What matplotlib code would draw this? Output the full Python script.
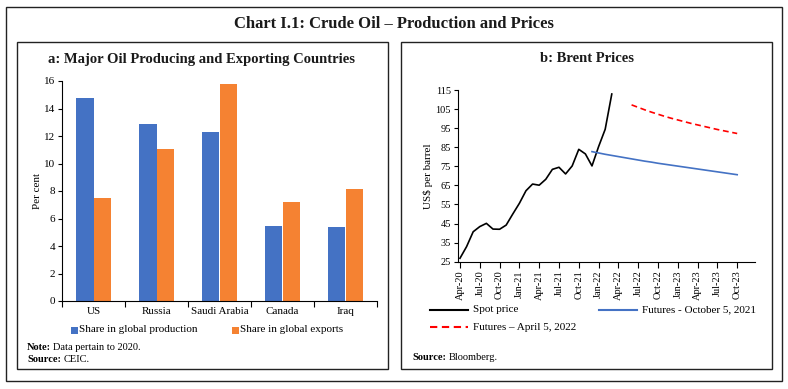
import matplotlib
matplotlib.use("Agg")
import matplotlib.pyplot as plt
from matplotlib.patches import Rectangle
from matplotlib.lines import Line2D

# ---------------- data ----------------
countries = ["US", "Russia", "Saudi Arabia", "Canada", "Iraq"]
share_production = [14.8, 12.9, 12.3, 5.45, 5.35]
share_exports = [7.5, 11.05, 15.8, 7.2, 8.15]

months = ["Apr-20", "May-20", "Jun-20", "Jul-20", "Aug-20", "Sep-20", "Oct-20", "Nov-20", "Dec-20",
          "Jan-21", "Feb-21", "Mar-21", "Apr-21", "May-21", "Jun-21", "Jul-21", "Aug-21", "Sep-21",
          "Oct-21", "Nov-21", "Dec-21", "Jan-22", "Feb-22", "Mar-22", "Apr-22", "May-22", "Jun-22",
          "Jul-22", "Aug-22", "Sep-22", "Oct-22", "Nov-22", "Dec-22", "Jan-23", "Feb-23", "Mar-23",
          "Apr-23", "May-23", "Jun-23", "Jul-23", "Aug-23", "Sep-23", "Oct-23", "Nov-23", "Dec-23"]

spot_price = [26.8, 32.9, 40.7, 43.4, 45.1, 42.1, 42.0, 44.2, 50.0, 55.6, 62.2, 65.7,
              65.1, 68.2, 73.4, 74.5, 71.0, 75.2, 83.9, 81.5, 75.2, 85.3, 94.4, 112.9]
futures_oct21 = [82.7, 82.0, 81.3, 80.7, 80.1, 79.5, 78.9, 78.3, 77.7, 77.2, 76.6, 76.1,
                 75.6, 75.1, 74.6, 74.1, 73.6, 73.1, 72.6, 72.1, 71.6, 71.1, 70.6]
futures_oct21_start = "Dec-21"
futures_apr22 = [107.2, 105.9, 104.6, 103.4, 102.3, 101.2, 100.2, 99.3, 98.4, 97.5,
                 96.7, 95.9, 95.1, 94.3, 93.6, 92.9, 92.2]
futures_apr22_start = "Jun-22"

# ---------------- style ----------------
W, H = 788, 389
BLUE = "#4472C4"
ORANGE = "#F58232"
RED = "#FF0000"
DASH = (0, (3.5, 2.2))
SERIF = ["Liberation Serif", "DejaVu Serif"]
plt.rcParams["font.family"] = SERIF

fig = plt.figure(figsize=(W / 100, H / 100), dpi=100)
fig.patch.set_facecolor("white")
renderer = fig.canvas.get_renderer()


def rect(l, t, r, b):
    return [l / W, 1 - b / H, (r - l) / W, (b - t) / H]


def fx(x):
    return x / W


def fy(y):
    return 1 - y / H


def bold_lead(x, y, lead, rest, size):
    t = fig.text(fx(x), fy(y), lead, ha="left", va="center", fontsize=size, fontweight="bold")
    bb = t.get_window_extent(renderer)
    fig.text(bb.x1 / W + 2.5 / W, fy(y), rest, ha="left", va="center", fontsize=size)


# frames
fig.add_artist(Rectangle((fx(6), fy(381)), (782 - 6) / W, (381 - 7) / H, transform=fig.transFigure,
                         fill=False, edgecolor="#222222", lw=1.0))
fig.add_artist(Rectangle((fx(17), fy(369)), (388 - 17) / W, (369 - 41.5) / H, transform=fig.transFigure,
                         fill=False, edgecolor="#222222", lw=1.0))
fig.add_artist(Rectangle((fx(401), fy(369)), (772 - 401) / W, (369 - 41.5) / H, transform=fig.transFigure,
                         fill=False, edgecolor="#222222", lw=1.0))

fig.text(fx(394), fy(24.5), "Chart I.1: Crude Oil – Production and Prices", ha="center", va="center",
         fontsize=12, fontweight="bold", color="#1a1a1a")
fig.text(fx(201), fy(59), "a: Major Oil Producing and Exporting Countries", ha="center", va="center",
         fontsize=10.5, fontweight="bold", color="#1a1a1a")
fig.text(fx(587), fy(59), "b: Brent Prices", ha="center", va="center",
         fontsize=10.5, fontweight="bold", color="#1a1a1a")

# ---------------- panel a ----------------
ax1 = fig.add_axes(rect(62, 81, 377, 301))
x = list(range(len(countries)))
bw = 0.285
ax1.bar([i - bw / 2 for i in x], share_production, width=bw, color=BLUE, label="Share in global production")
ax1.bar([i + bw / 2 for i in x], share_exports, width=bw, color=ORANGE, label="Share in global exports")
ax1.set_xlim(-0.5, len(countries) - 0.5)
ax1.set_ylim(0, 16)
ax1.set_yticks(range(0, 17, 2))
ax1.set_xticks([i - 0.5 for i in range(len(countries) + 1)])
ax1.set_xticklabels([])
ax1.set_xticks(x, minor=True)
ax1.set_xticklabels(countries, minor=True)
ax1.tick_params(axis="x", which="minor", length=0, labelsize=8, pad=4)
ax1.tick_params(axis="x", which="major", length=4, direction="out")
ax1.tick_params(axis="y", length=3, labelsize=8, direction="out", pad=2)
for s in ["top", "right"]:
    ax1.spines[s].set_visible(False)
ax1.set_ylabel("Per cent", fontsize=8, labelpad=1)

# legend a
for px, col, lab in [(71, BLUE, "Share in global production"), (232, ORANGE, "Share in global exports")]:
    fig.add_artist(Rectangle((fx(px), fy(334)), 7 / W, 7 / H, transform=fig.transFigure,
                             facecolor=col, edgecolor="none"))
    fig.text(fx(px + 8), fy(330), lab, ha="left", va="center", fontsize=8)

bold_lead(27, 347, "Note:", "Data pertain to 2020.", 7.5)
bold_lead(27, 359, "Source:", "CEIC.", 7.5)

# ---------------- panel b ----------------
ax2 = fig.add_axes(rect(458, 90, 755, 261.7))
idx = list(range(len(months)))
ax2.plot(idx[:len(spot_price)], spot_price, color="black", lw=1.2)
s1 = months.index(futures_oct21_start)
ax2.plot(idx[s1:s1 + len(futures_oct21)], futures_oct21, color=BLUE, lw=1.2)
s2 = months.index(futures_apr22_start)
ax2.plot(idx[s2:s2 + len(futures_apr22)], futures_apr22, color=RED, lw=1.2, ls=DASH)
ax2.set_xlim(-0.3, 44.7)
ax2.set_ylim(25, 115)
ax2.set_yticks(range(25, 116, 10))
ax2.set_xticks(idx[0:43:3])
ax2.set_xticklabels(months[0:43:3], rotation=90)
ax2.tick_params(axis="x", length=4, direction="out", labelsize=7.5, pad=2)
ax2.tick_params(axis="y", length=3, direction="out", labelsize=7.5, pad=2)
for s in ["top", "right"]:
    ax2.spines[s].set_visible(False)
ax2.set_ylabel("US$ per barrel", fontsize=8, labelpad=2)

# legend b
for (x0, y0, col, ls, lab) in [(430, 310, "black", "-", "Spot price"),
                               (599, 310, BLUE, "-", "Futures - October 5, 2021"),
                               (430, 327, RED, DASH, "Futures – April 5, 2022")]:
    fig.add_artist(Line2D([fx(x0), fx(x0 + 38)], [fy(y0), fy(y0)], transform=fig.transFigure,
                          color=col, lw=1.5, ls=ls))
    fig.text(fx(x0 + 43), fy(y0), lab, ha="left", va="center", fontsize=8)

bold_lead(412, 357, "Source:", "Bloomberg.", 7.5)

fig.savefig("out.png", dpi=100, facecolor="white")
